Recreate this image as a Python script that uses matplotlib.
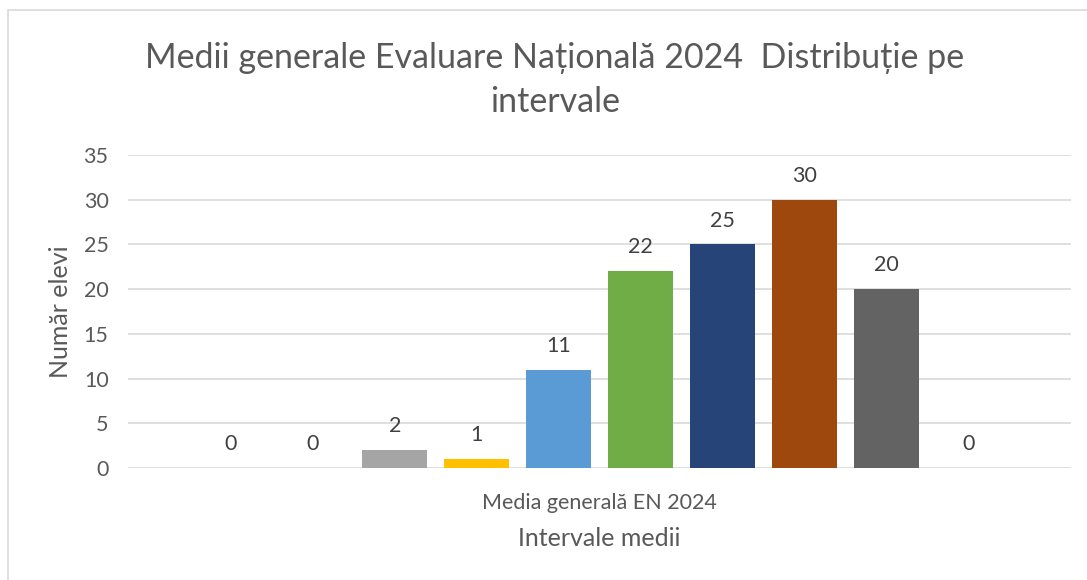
import matplotlib.pyplot as plt
import numpy as np
from matplotlib.patches import Rectangle

plt.rcParams['font.family'] = ['Lato', 'DejaVu Sans']

# one category, ten interval series (Excel style clustered bar)
series_values = [0, 0, 2, 1, 11, 22, 25, 30, 20, 0]
series_colors = ['#4472C4', '#ED7D31', '#A5A5A5', '#FFC000', '#5B9BD5',
                 '#70AD47', '#264478', '#9E480E', '#636363', '#997300']
category = 'Media generală EN 2024'
y_ticks = [0, 5, 10, 15, 20, 25, 30, 35]

title = 'Medii generale Evaluare Națională 2024  Distribuție pe\nintervale'

fig = plt.figure(figsize=(10.87, 5.8), dpi=100)
# chart area border
fig.patches.append(Rectangle((8 / 1087, -0.1), 1.2, 1 - 10 / 580 + 0.1,
                             transform=fig.transFigure, fill=False,
                             edgecolor='#D9D9D9', linewidth=1.2))

ax = fig.add_axes([128 / 1087, 1 - 468 / 580, (1071 - 128) / 1087, (468 - 155) / 580])

x = np.arange(len(series_values))
bars = ax.bar(x, series_values, width=0.79, color=series_colors, zorder=3)
for xi, v in zip(x, series_values):
    ax.annotate(str(v), (xi, v), xytext=(0, 10), textcoords='offset points',
                ha='center', va='bottom', fontsize=15.5, color='#404040')

ax.set_xlim(-1.256, len(series_values) - 1 + 1.256)
ax.set_ylim(0, 35)
ax.set_yticks(y_ticks)
ax.yaxis.grid(True, color='#D9D9D9', linewidth=1.2, zorder=0)
ax.tick_params(axis='y', length=0, labelsize=15.5, labelcolor='#595959', pad=14)
ax.set_xticks([(len(series_values) - 1) / 2])
ax.set_xticklabels([category])
ax.tick_params(axis='x', length=0, labelsize=15.5, labelcolor='#595959', pad=18)
for s in ax.spines.values():
    s.set_visible(False)

ax.set_xlabel('Intervale medii', fontsize=18, color='#595959', labelpad=10)
ax.set_ylabel('Număr elevi', fontsize=18, color='#595959', labelpad=8)

fig.text(555 / 1087, 1 - 80 / 580, title, ha='center', va='center',
         fontsize=24.5, color='#595959', linespacing=1.45)

fig.savefig('out.png', dpi=100)
